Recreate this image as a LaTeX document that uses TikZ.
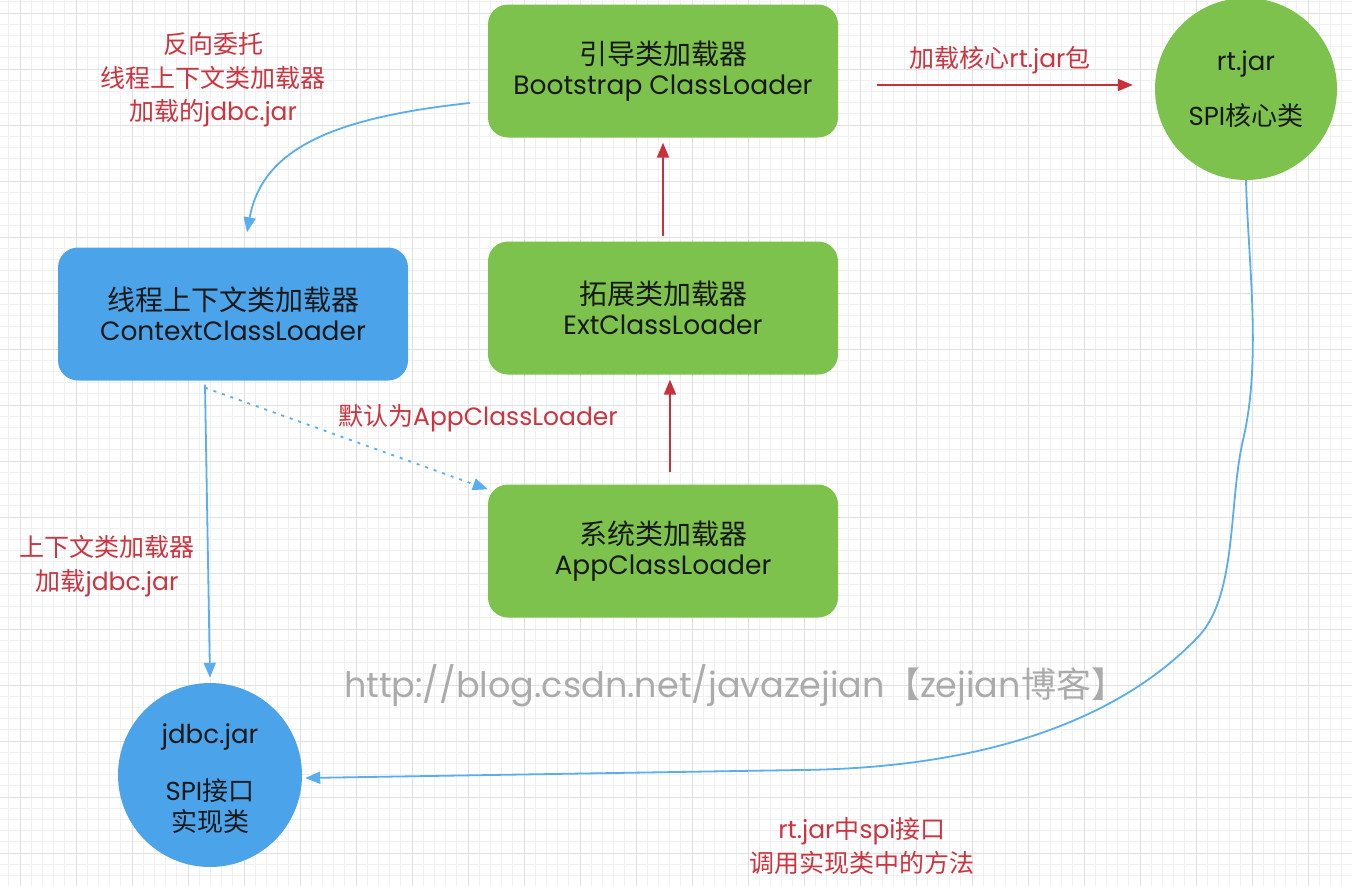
\documentclass[tikz,border=0pt]{standalone}
\usepackage{fontspec}
\setmainfont{Poppins}
\newfontfamily\cjk{Noto Sans CJK SC}
\usetikzlibrary{arrows.meta}
\definecolor{gfill}{HTML}{7DC24C}
\definecolor{bfill}{HTML}{4BA3EA}
\definecolor{rtext}{HTML}{CC3440}
\definecolor{rline}{HTML}{C8303C}
\definecolor{bline}{HTML}{5AAEF0}
\definecolor{gridmin}{HTML}{F0F0F0}
\definecolor{gridmaj}{HTML}{E0E0E0}
\definecolor{wmark}{HTML}{ABABAB}
\newcommand{\boxcjk}[1]{{\cjk\fontsize{28}{30}\selectfont #1}}
\tikzset{
  loaderbox/.style={rounded corners=20pt, minimum width=350pt, minimum height=133pt, align=center, inner sep=0pt,
    font=\fontsize{26.5}{30}\selectfont, text=black!90},
  greenbox/.style={loaderbox, fill=gfill},
  bluebox/.style={loaderbox, fill=bfill},
  jarcircle/.style={circle, inner sep=0pt, align=center, font=\fontsize{26}{31}\selectfont, text=black!90},
  redlabel/.style={text=rtext, align=center, font=\fontsize{25}{33.5}\selectfont, inner sep=0pt},
  redarr/.style={draw=rline, line width=2pt, -{Triangle[length=15pt,width=12pt]}},
  bluearr/.style={draw=bline, line width=1.8pt, -{Triangle[length=15pt,width=12pt]}},
}
\begin{document}
\begin{tikzpicture}[x=1pt,y=-1pt]
\useasboundingbox (0,0) rectangle (1352,886);
\fill[white] (0,0) rectangle (1352,886);
% grid
\foreach \i in {-2,...,120} {
  \draw[gridmin, line width=0.8pt] ({20+\i*11.2},0) -- ({20+\i*11.2},886);
}
\foreach \i in {-2,...,80} {
  \draw[gridmin, line width=0.8pt] (0,{13+\i*11.2}) -- (1352,{13+\i*11.2});
}
\foreach \i in {0,...,24} {
  \draw[gridmaj, line width=1pt] ({20+\i*56},0) -- ({20+\i*56},886);
}
\foreach \i in {0,...,16} {
  \draw[gridmaj, line width=1pt] (0,{13+\i*56}) -- (1352,{13+\i*56});
}
% boxes
\node[greenbox] (boot) at (663,71) {\boxcjk{引导类加载器}\\Bootstrap ClassLoader};
\node[greenbox] (ext) at (663,308) {\boxcjk{拓展类加载器}\\ExtClassLoader};
\node[greenbox] (app) at (663,551) {\boxcjk{系统类加载器}\\AppClassLoader};
\node[bluebox] (ctx) at (233,314) {\boxcjk{线程上下文类加载器}\\ContextClassLoader};
\node[jarcircle, fill=gfill, minimum size=182pt] (rt) at (1246,89) {rt.jar\\[24pt]SPI{\cjk 核心类}};
\node[jarcircle, fill=bfill, minimum size=184pt] (jdbc) at (210,775) {};
\node[jarcircle, text=black!90] (jdbct) at (210,779) {jdbc.jar\\[26pt]SPI{\cjk 接口}\\{\cjk 实现类}};
% watermark
\node[text=wmark, font=\fontsize{35}{35}\selectfont, inner sep=0pt] (wm) at (735,686) {http://blog.csdn.net/javazejian{\cjk 【}zejian{\cjk 博客】}};
% red arrows
\draw[redarr] ([xshift=39pt,yshift=-14pt]boot.east) -- ([xshift=-22pt,yshift=4pt]rt.west);
\draw[redarr] ([yshift=5pt]ext.north) -- ([yshift=-5pt]boot.south);
\draw[redarr] ([xshift=7pt,yshift=12pt]app.north) -- ([xshift=7pt,yshift=-5pt]ext.south);
% blue arrows
\draw[bluearr] ([xshift=-18pt,yshift=-32pt]boot.west) .. controls (330,118) and (262,150) .. ([xshift=14pt,yshift=15pt]ctx.north);
\draw[bluearr, dash pattern=on 3pt off 6pt] ([xshift=-28pt,yshift=-7pt]ctx.south) -- ([yshift=-5pt]app.north west);
\draw[bluearr] ([xshift=-28pt,yshift=-4pt]ctx.south) -- ([yshift=5pt]jdbc.north);
\draw[bluearr] (rt.south) .. controls (1248,260) and (1262,360) .. (1243,440)
  .. controls (1228,505) and (1238,600) .. (1195,640)
  .. controls (1125,712) and (1000,768) .. (800,770)
  -- ([xshift=3pt,yshift=-3pt]jdbc.east);
% labels
\node[redlabel] (l1) at (1000,60) {{\cjk 加载核心}rt.jar{\cjk 包}};
\node[redlabel] (l2) at (213,80) {{\cjk 反向委托}\\{\cjk 线程上下文类加载器}\\{\cjk 加载的}jdbc.jar};
\node[redlabel] (l3) at (478,418) {{\cjk 默认为}AppClassLoader};
\node[redlabel] (l4) at (107,566) {{\cjk 上下文类加载器}\\{\cjk 加载}jdbc.jar};
\node[redlabel] (l5) at (862,846) {rt.jar{\cjk 中}spi{\cjk 接口}\\{\cjk 调用实现类中的方法}};
\end{tikzpicture}
\end{document}
